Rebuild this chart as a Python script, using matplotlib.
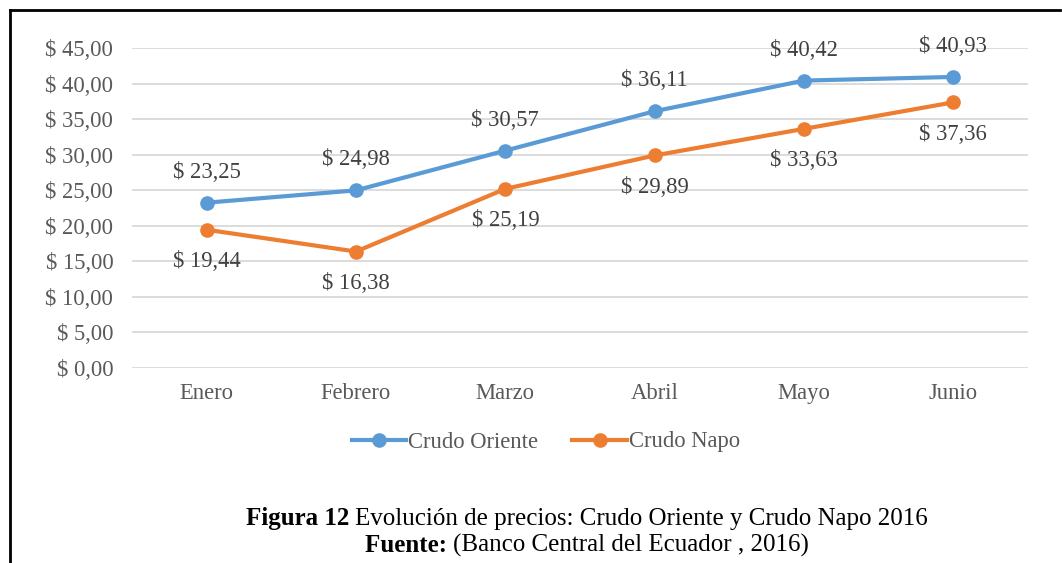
import matplotlib.pyplot as plt
from matplotlib.lines import Line2D

meses = ["Enero", "Febrero", "Marzo", "Abril", "Mayo", "Junio"]
crudo_oriente = [23.25, 24.98, 30.57, 36.11, 40.42, 40.93]
crudo_napo = [19.44, 16.38, 25.19, 29.89, 33.63, 37.36]
y_ticks = [0, 5, 10, 15, 20, 25, 30, 35, 40, 45]

azul = "#5B9BD5"
naranja = "#ED7D31"
gris = "#595959"
fs = 16.3

plt.rcParams["font.family"] = ["Liberation Serif", "DejaVu Serif"]

fig = plt.figure(figsize=(10.62, 5.63), dpi=100)
ax = fig.add_axes([132 / 1062, 1 - 368 / 563, (1028 - 132) / 1062, 320 / 563])

x = list(range(len(meses)))
ax.plot(x, crudo_oriente, color=azul, lw=3, marker="o", ms=9.5, label="Crudo Oriente", zorder=3)
ax.plot(x, crudo_napo, color=naranja, lw=3, marker="o", ms=9.5, label="Crudo Napo", zorder=3)

def fmt(v):
    return "$ " + f"{v:.2f}".replace(".", ",")

for i, v in enumerate(crudo_oriente):
    ax.annotate(fmt(v), (i, v), xytext=(0, 22), textcoords="offset points",
                ha="center", va="center", fontsize=fs, color="#404040")
for i, v in enumerate(crudo_napo):
    ax.annotate(fmt(v), (i, v), xytext=(0, -23), textcoords="offset points",
                ha="center", va="center", fontsize=fs, color="#404040")

ax.set_xlim(-0.5, len(meses) - 0.5)
ax.set_ylim(0, 45)
ax.set_yticks(y_ticks)
ax.set_yticklabels([fmt(t) for t in y_ticks])
ax.set_xticks(x)
ax.set_xticklabels(meses)
ax.tick_params(axis="both", length=0, labelsize=fs, labelcolor=gris)
ax.tick_params(axis="y", pad=13.5)
ax.tick_params(axis="x", pad=11)
ax.grid(axis="y", color="#D9D9D9", lw=1.3)
ax.set_axisbelow(True)
for s in ax.spines.values():
    s.set_visible(False)

leg = fig.legend(loc="center", bbox_to_anchor=(546 / 1062, 1 - 442 / 563), ncol=2,
                 frameon=False, fontsize=fs, handlelength=2.4, handletextpad=0.1,
                 columnspacing=1.5)
for t in leg.get_texts():
    t.set_color(gris)

# marco del recuadro
fig.add_artist(Line2D([9.5 / 1062, 9.5 / 1062], [0, 1 - 10 / 563], color="black", lw=2))
fig.add_artist(Line2D([9.5 / 1062, 1060 / 1062], [1 - 10 / 563, 1 - 10 / 563], color="black", lw=2))

# pie de figura: parte en negrita + parte normal, centradas juntas
fig.canvas.draw()
renderer = fig.canvas.get_renderer()

def caption(bold, normal, cx, y):
    tb = fig.text(0, y, bold, fontsize=18, fontweight="bold", va="center")
    tn = fig.text(0, y, normal, fontsize=18, va="center")
    wb = tb.get_window_extent(renderer).width / fig.bbox.width
    wn = tn.get_window_extent(renderer).width / fig.bbox.width
    x0 = cx - (wb + wn) / 2
    tb.set_x(x0)
    tn.set_x(x0 + wb)

caption("Figura 12 ", "Evolución de precios: Crudo Oriente y Crudo Napo 2016", 587 / 1062, 1 - 519 / 563)
caption("Fuente: ", "(Banco Central del Ecuador , 2016)", 587 / 1062, 1 - 545 / 563)

fig.savefig("out.png", dpi=100)
